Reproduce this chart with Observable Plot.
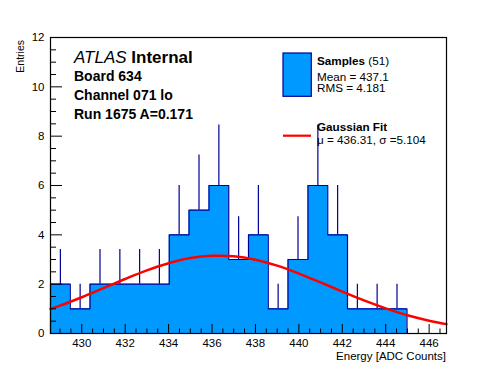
<!DOCTYPE html>
<html><head><meta charset="utf-8">
<script src="https://cdn.jsdelivr.net/npm/d3@7"></script>
<script src="https://cdn.jsdelivr.net/npm/@observablehq/plot@0.6"></script>
<style>
body{margin:0;background:#fff;}
#chart{position:relative;width:496px;height:372px;overflow:hidden;}
</style>
</head><body><div id="chart"></div>
<script>
// Histogram bins (lower / upper edges) and contents
const binLo = [428.56,429.47,430.38,431.30,432.21,433.12,434.03,434.94,435.86,436.77,437.68,438.59,439.50,440.42,441.33,442.24,443.15,444.06,444.98,445.89];
const binHi = [429.47,430.38,431.30,432.21,433.12,434.03,434.94,435.86,436.77,437.68,438.59,439.50,440.42,441.33,442.24,443.15,444.06,444.98,445.89,446.80];
const counts = [2,1,2,2,2,2,4,5,6,3,4,1,3,6,4,1,1,1,0,0];
const errors = [1.41,1,1.41,1.41,1.41,1.41,2,2.24,2.45,1.73,2,1,1.73,2.45,2,1,1,1,0,0];
// Gaussian fit curve
const fitX = [428.56,429,430,431,432,433,434,435,436,437,438,439,440,441,442,443,444,445,446,446.8];
const fitY = [1.00,1.13,1.47,1.84,2.21,2.56,2.85,3.06,3.15,3.13,2.99,2.75,2.43,2.07,1.70,1.34,1.02,0.74,0.52,0.38];
// Axes
const xDomain = [428.56, 446.80];
const yDomain = [0, 12];
const xMajor = [430,432,434,436,438,440,442,444,446];
const yMajor = [0,2,4,6,8,10,12];
const xTitle = "Energy [ADC Counts]";
const yTitle = "Entries";
// Texts
const atlasA = "ATLAS", atlasB = "Internal";
const infoLines = ["Board 634", "Channel 071 lo", "Run 1675 A=0.171"];
const legSamples = ["Samples", " (51)"];
const legStats = ["Mean = 437.1", "RMS = 4.181"];
const legFit = "Gaussian Fit";
const legFitPars = "\u03bc = 436.31, \u03c3 =5.104";

const W = 496, H = 372, mL = 50, mR = 50, mT = 37, mB = 39;
const pw = W - mL - mR, ph = H - mT - mB;
const FILL = "#0099ff", NAVY = "#000099";
const FONT = "'Liberation Sans', Arial, Helvetica, sans-serif";

const xMinor = d3.range(428.5, 447, 0.5).filter(v => v >= xDomain[0] && v <= xDomain[1] && !xMajor.includes(v));
const yMinor = d3.range(0, 12.01, 0.5).filter(v => !yMajor.includes(v));

const bins = binLo.map((lo, i) => ({lo, hi: binHi[i], n: counts[i], e: errors[i], c: (lo + binHi[i]) / 2}));
const step = [{x: binLo[0], y: 0}, ...bins.map(b => ({x: b.lo, y: b.n})), {x: binHi[binHi.length-1], y: counts[counts.length-1]}, {x: binHi[binHi.length-1], y: 0}];
const fit = fitX.map((x, i) => ({x, y: fitY[i]}));

const svg = Plot.plot({
  width: W, height: H,
  marginLeft: mL, marginRight: mR, marginTop: mT, marginBottom: mB,
  style: {fontFamily: FONT, fontSize: "11.5px", background: "white", color: "black"},
  x: {domain: xDomain},
  y: {domain: yDomain},
  marks: [
    Plot.areaY(step, {x: "x", y: "y", curve: "step-after", fill: FILL}),
    Plot.ruleX(bins.filter(b => b.n > 0), {x: "c", y1: "n", y2: d => d.n + d.e, stroke: NAVY, strokeWidth: 1.2}),
    Plot.line(step, {x: "x", y: "y", curve: "step-after", stroke: NAVY, strokeWidth: 1.2}),
    Plot.line(fit, {x: "x", y: "y", curve: "catmull-rom", stroke: "#ff0000", strokeWidth: 2.5}),
    Plot.ruleX(xMajor, {x: d => d, stroke: "black", insetTop: ph - 9}),
    Plot.ruleX(xMinor, {x: d => d, stroke: "black", insetTop: ph - 4.5}),
    Plot.ruleY(yMajor, {y: d => d, stroke: "black", insetRight: pw - 12}),
    Plot.ruleY(yMinor, {y: d => d, stroke: "black", insetRight: pw - 6}),
    Plot.axisX(xMajor, {tickSize: 0, tickPadding: 5.5, label: null, fontSize: 11.5}),
    Plot.axisY(yMajor, {tickSize: 0, tickPadding: 6, label: null, fontSize: 11.5}),
    Plot.frame({stroke: "black", strokeWidth: 1.2})
  ]
});
document.getElementById("chart").appendChild(svg);

const s = d3.select(svg);
const g = s.append("g").attr("font-family", FONT).attr("fill", "black").attr("text-anchor", "start");
// axis titles
g.append("text").attr("transform", "translate(23.5,40) rotate(-90)").attr("text-anchor", "end").attr("font-size", 10.5).text(yTitle);
g.append("text").attr("x", 446).attr("y", 359.5).attr("text-anchor", "end").attr("font-size", 11.5).text(xTitle);
// ATLAS label
const t0 = g.append("text").attr("x", 74).attr("y", 63).attr("font-size", 17);
t0.append("tspan").attr("font-style", "italic").text(atlasA);
t0.append("tspan").attr("font-weight", "bold").text(" " + atlasB);
infoLines.forEach((t, i) => g.append("text").attr("x", 74).attr("y", 81 + i * 19).attr("font-size", 14).attr("font-weight", "bold").text(t));
// legend
g.append("rect").attr("x", 283).attr("y", 53).attr("width", 28.3).attr("height", 43.3).attr("fill", FILL).attr("stroke", NAVY).attr("stroke-width", 1.2);
const t1 = g.append("text").attr("x", 317).attr("y", 65.3).attr("font-size", 11.7);
t1.append("tspan").attr("font-weight", "bold").text(legSamples[0]);
t1.append("tspan").text(legSamples[1]);
legStats.forEach((t, i) => g.append("text").attr("x", 317).attr("y", 80.7 + i * 11.7).attr("font-size", 11.7).text(t));
g.append("line").attr("x1", 283).attr("x2", 311).attr("y1", 135.7).attr("y2", 135.7).attr("stroke", "#ff0000").attr("stroke-width", 2.2);
g.append("text").attr("x", 317).attr("y", 131.3).attr("font-size", 11.7).attr("font-weight", "bold").text(legFit);
g.append("text").attr("x", 317).attr("y", 143.7).attr("font-size", 11.7).text(legFitPars);
</script>
</body></html>
